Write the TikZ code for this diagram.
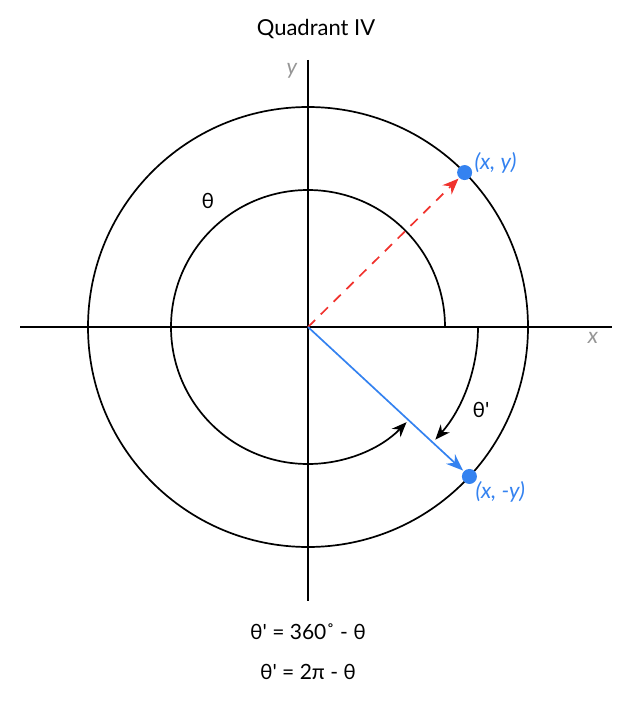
\documentclass[tikz,border=0pt]{standalone}
\usepackage{fontspec}
\setmainfont{Lato}[Ligatures=TeXOff]
\usetikzlibrary{arrows.meta,calc}
\definecolor{qblue}{RGB}{52,130,240}
\definecolor{qred}{RGB}{240,50,45}
\definecolor{qgray}{RGB}{150,150,150}
\tikzset{
  axis/.style={line width=1.7pt, black},
  circ/.style={line width=1.7pt, black},
  angarrow/.style={line width=1.7pt, black, -{Stealth[length=15pt,width=12pt]}},
  lbl/.style={font=\fontsize{22}{26}\selectfont},
  eqlbl/.style={font=\fontsize{21}{25}\selectfont},
  axlbl/.style={text=qgray, font=\fontsize{22}{26}\selectfont\itshape},
  ptlbl/.style={text=qblue, font=\fontsize{22}{26}\selectfont\itshape},
  dot/.style={circle, fill=qblue, inner sep=0pt, minimum size=15pt}
}
\begin{document}
\begin{tikzpicture}[x=1pt,y=-1pt]
\useasboundingbox (0,0) rectangle (633,701);
\coordinate (O) at (308,327);
\coordinate (xl) at (20,327);
\coordinate (xr) at (612,327);
\coordinate (yt) at (308,60);
\coordinate (yb) at (308,601);
\draw[axis] (xl) -- (xr);
\draw[axis] (yt) -- (yb);
\draw[circ] (O) circle[radius=220];
% inner arc theta
\draw[angarrow] (O) ++(0:137) arc[start angle=0, end angle=-316, radius=137];
% theta' arc
\draw[angarrow] (O) ++(0:170) arc[start angle=0, end angle=41.5, radius=170];
% points
\node[dot] (p1) at ($(O)+(-44.6:220)$) {};
\node[dot] (p2) at ($(O)+(42.8:220)$) {};
\draw[qred, line width=1.7pt, dash pattern=on 10pt off 8pt, -{Stealth[length=16pt,width=13pt]}, shorten >=1pt] (O) -- (p1);
\draw[qblue, line width=1.7pt, -{Stealth[length=17pt,width=13pt]}, shorten >=1pt] (O) -- (p2);
% labels
\node[lbl] (title) at (316,29) {Quadrant IV};
\node[axlbl] (ylab) at (292,71) {y};
\node[axlbl] (xlab) at (593,338) {x};
\node[eqlbl] (th) at (208,201) {θ};
\node[eqlbl] (thp) at (481,410) {θ'};
\node[ptlbl, anchor=west] (l1) at (471,163) {(x, y)};
\node[ptlbl, anchor=west] (l2) at (472,492) {(x, -y)};
\node[eqlbl] (f1) at (308,632) {θ' = 360˚ - θ};
\node[eqlbl] (f2) at (308,672) {θ' = 2π - θ};
\end{tikzpicture}
\end{document}
